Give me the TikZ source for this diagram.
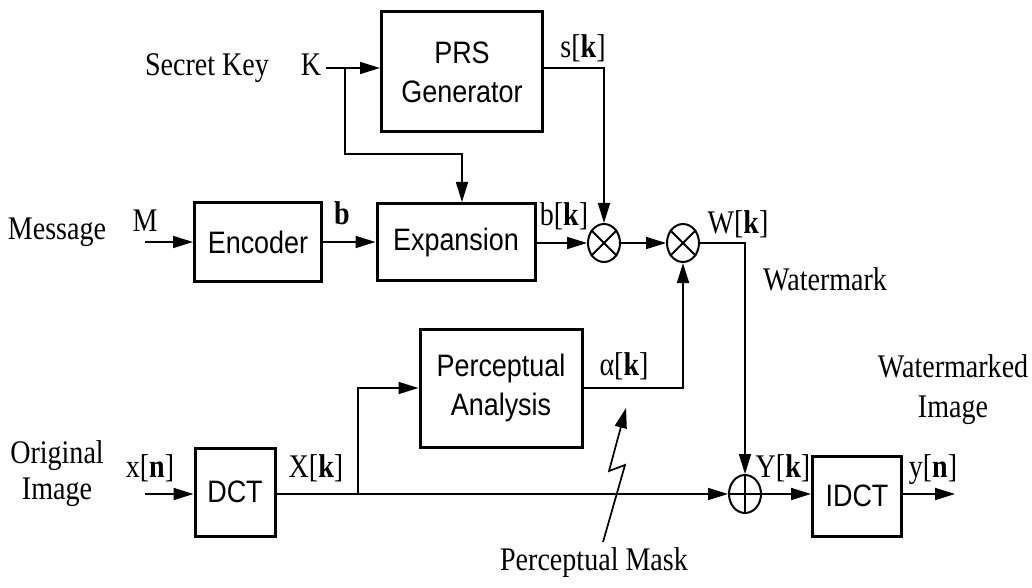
\documentclass[tikz,border=0pt]{standalone}
\usepackage{fontspec}
\setmainfont{Liberation Serif}[FakeStretch=0.85]
\setsansfont{Liberation Sans}[FakeStretch=0.87]
\usetikzlibrary{arrows.meta,shapes.geometric}
\tikzset{
  blk/.style={draw, line width=1.5pt, font=\sffamily\fontsize{15.5}{19.5}\selectfont, align=center, inner sep=0pt},
  lbl/.style={font=\fontsize{16.5}{18}\selectfont, inner sep=0pt},
  mix/.style={draw, ellipse, line width=1pt, minimum width=16pt, minimum height=19pt, inner sep=0pt},
  sig/.style={line width=0.85pt, -{Triangle[length=10pt,width=6pt]}},
  wire/.style={line width=0.85pt},
}
\begin{document}
\begin{tikzpicture}[x=0.5pt, y=-0.5pt]
            \useasboundingbox (0,0) rectangle (1032,588);
            % Blocchi
            \node[blk, minimum width=80.5pt, minimum height=60pt] (prs) at (462,72) {PRS\\Generator};
            \node[blk, minimum width=63.5pt, minimum height=39pt] (enc) at (258,242) {Encoder};
            \node[blk, minimum width=79pt, minimum height=38.5pt] (exp) at (456,242) {Expansion};
            \node[blk, minimum width=81pt, minimum height=59pt] (perc) at (501,388) {Perceptual\\Analysis};
            \node[blk, minimum width=40pt, minimum height=44pt] (dct) at (235,492) {DCT};
            \node[blk, minimum width=44.5pt, minimum height=40pt] (idct) at (857,496) {IDCT};
            % Moltiplicatori e sommatore
            \node[mix] (m1) at (604,243) {};
            \node[mix] (m2) at (683,243) {};
            \node[mix] (add) at (745,494) {};
            \draw[line width=1pt] (m1.45) -- (m1.225) (m1.135) -- (m1.315);
            \draw[line width=1pt] (m2.45) -- (m2.225) (m2.135) -- (m2.315);
            \draw[line width=1pt] (add.north) -- (add.south) (add.east) -- (add.west);
            % Punti
            \coordinate (ksrc) at (326,68);
            \coordinate (kb) at (345,68);
            \coordinate (kd) at (345,154);
            \coordinate (msrc) at (145,242);
            \coordinate (xsrc) at (145,494);
            \coordinate (xb) at (358,494);
            \coordinate (yout) at (955,494);
            % Etichette
            \node[lbl, anchor=base] (key) at (207,76) {Secret Key};
            \node[lbl, anchor=base] (k) at (311,76) {K};
            \node[lbl, anchor=base] (msg) at (57,240) {Message};
            \node[lbl, anchor=base] (m) at (145,232) {M};
            \node[lbl, anchor=base] (b) at (342,225) {\textbf{b}};
            \node[lbl, anchor=base] (bk) at (564,226) {b[\textbf{k}]};
            \node[lbl, anchor=base] (sk) at (583,58) {s[\textbf{k}]};
            \node[lbl, anchor=base] (wk) at (738,234) {W[\textbf{k}]};
            \node[lbl, anchor=base] (wm) at (825,290) {Watermark};
            \node[lbl, anchor=base] (ak) at (624,375) {α[\textbf{k}]};
            \node[lbl, align=center] (orig) at (57,474) {Original\\Image};
            \node[lbl, anchor=base] (xn) at (150,477) {x[\textbf{n}]};
            \node[lbl, anchor=base] (xk) at (316,477) {X[\textbf{k}]};
            \node[lbl, anchor=base] (yk) at (783,477) {Y[\textbf{k}]};
            \node[lbl, anchor=base] (yn) at (933,477) {y[\textbf{n}]};
            \node[lbl, align=center, font=\fontsize{16.5}{20}\selectfont] (wimg) at (953,390) {Watermarked\\Image};
            \node[lbl, anchor=base] (pm) at (594,570) {Perceptual Mask};
            % Collegamenti
            \draw[sig] (ksrc) -- (prs.west |- ksrc);
            \draw[sig] (kb) -- (kd) -| ([xshift=3pt]exp.north);
            \draw[sig] (prs.east |- ksrc) -| (m1.north);
            \draw[sig] (msrc) -- (enc.west |- msrc);
            \draw[sig] (enc.east |- msrc) -- (exp.west |- msrc);
            \draw[sig] (exp.east |- m1) -- (m1.west);
            \draw[sig] (m1.east) -- (m2.west);
            \draw[sig] (m2.east) -| (add.north);
            \draw[sig] (xsrc) -- (dct.west |- xsrc);
            \draw[sig] (dct.east |- xsrc) -- (add.west);
            \draw[sig] (xb) |- (perc.west);
            \draw[sig] (perc.east) -| (m2.south);
            \draw[sig] (add.east) -- (idct.west |- add);
            \draw[sig] (idct.east |- add) -- (yout);
            % Fulmine
            \draw[sig] (603,542) -- (625,465) -- (609,471) -- (626,408);
        \end{tikzpicture}
\end{document}
